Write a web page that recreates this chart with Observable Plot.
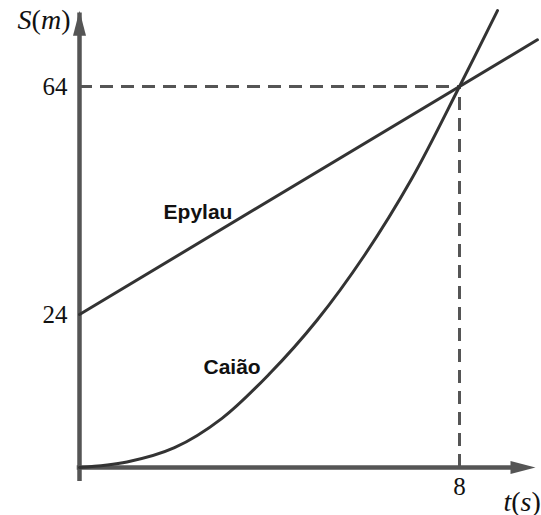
<!DOCTYPE html>
<html>
<head>
<meta charset="utf-8">
<script src="https://cdn.jsdelivr.net/npm/d3@7"></script>
<script src="https://cdn.jsdelivr.net/npm/@observablehq/plot@0.6"></script>
<style>
  html, body { margin: 0; padding: 0; background: #fff; }
</style>
</head>
<body>
<div id="chart"></div>
<script>
// ---- data ----
const epylauT = [0, 9.64];
const epylauS = [24, 72.2];

const caiaoT = [0, 1, 2, 3, 4, 5, 6, 7, 8, 8.8];
const caiaoS = [0, 0.86, 3.1, 7.7, 14.7, 23.1, 34.4, 47.9, 64, 77.3];

const meetT = [8];
const meetS = [64];

const yTickValues = [24, 64];
const xTickValues = [8];

const axisEndT = [9.6];
const axisEndS = [77.3];

const seriesNames = ["Epylau", "Caião"];
const labelT = [1.77, 2.61];
const labelS = [40.7, 14.7];

const yTitle = "S(m)";
const xTitle = "t(s)";

// ---- tables built from arrays ----
const epylau = epylauT.map((t, i) => ({t, s: epylauS[i]}));
const caiao = caiaoT.map((t, i) => ({t, s: caiaoS[i]}));
const labels = seriesNames.map((name, i) => ({name, t: labelT[i], s: labelS[i]}));

// the drawing is schematic: the 0–24 stretch of the S axis is longer than the 24–64 one
const sWarp = d3.scaleLinear().domain([0, 24, 64]).range([0, 153, 381]);

const axisColor = "#555";
const curveColor = "#333";
const serif = "Liberation Serif, serif";
const sans = "Liberation Sans, Arial, sans-serif";

const arrowUp = {draw(ctx) { ctx.moveTo(0, 0); ctx.lineTo(-6.5, 25); ctx.lineTo(6.5, 25); ctx.closePath(); }};
const arrowRight = {draw(ctx) { ctx.moveTo(0, 0); ctx.lineTo(-25, -6.5); ctx.lineTo(-25, 6.5); ctx.closePath(); }};

const chart = Plot.plot({
  width: 541,
  height: 515,
  style: {background: "#fff"},
  x: {domain: [0, 8], range: [79, 459], axis: null},
  y: {transform: d => sWarp(d), domain: [0, 381], range: [467, 86], axis: null},
  marks: [
    // dashed guides
    Plot.ruleY(meetS, {x1: 0, x2: meetT[0], stroke: axisColor, strokeWidth: 3, strokeDasharray: "13,8"}),
    Plot.ruleX(meetT, {y1: 0, y2: meetS[0], stroke: axisColor, strokeWidth: 3, strokeDasharray: "13,8"}),
    // axes
    Plot.ruleX([0], {y1: 0, y2: axisEndS[0], stroke: axisColor, strokeWidth: 4.5, insetTop: 14, insetBottom: -2.25}),
    Plot.ruleY([0], {x1: 0, x2: axisEndT[0], stroke: axisColor, strokeWidth: 4.5, insetRight: 14, insetLeft: -2.25}),
    Plot.dot([0], {x: 0, y: axisEndS[0], symbol: arrowUp, fill: axisColor, stroke: "none", r: 5}),
    Plot.dot([0], {x: axisEndT[0], y: 0, symbol: arrowRight, fill: axisColor, stroke: "none", r: 5}),
    // series
    Plot.line(epylau, {x: "t", y: "s", stroke: curveColor, strokeWidth: 3}),
    Plot.line(caiao, {x: "t", y: "s", stroke: curveColor, strokeWidth: 3, curve: "catmull-rom"}),
    // tick labels
    Plot.text(yTickValues, {x: 0, y: d => d, text: d => String(d), textAnchor: "end", dx: -12, lineAnchor: "middle", fontFamily: serif, fontSize: 25, fill: "#111"}),
    Plot.text(xTickValues, {x: d => d, y: 0, text: d => String(d), textAnchor: "middle", dy: 19, lineAnchor: "middle", fontFamily: serif, fontSize: 25, fill: "#111"}),
    // axis titles
    Plot.text([yTitle], {x: 0, y: axisEndS[0], text: d => d, textAnchor: "end", dx: -9, dy: 18, lineAnchor: "bottom", fontFamily: serif, fontSize: 28, fill: "#111", className: "math-title"}),
    Plot.text([xTitle], {x: axisEndT[0], y: 0, text: d => d, textAnchor: "start", dx: -32, dy: 43, lineAnchor: "bottom", fontFamily: serif, fontSize: 28, fill: "#111", className: "math-title"}),
    // series labels
    Plot.text(labels, {x: "t", y: "s", text: "name", textAnchor: "start", lineAnchor: "bottom", fontFamily: sans, fontWeight: "bold", fontSize: 21, fill: "#111"})
  ]
});

// math-style titles: italic variable letters, upright parentheses
d3.select(chart).selectAll(".math-title text").each(function () {
  const s = this.textContent;
  const node = d3.select(this);
  node.text(null);
  for (const ch of s) {
    node.append("tspan").attr("font-style", /[()]/.test(ch) ? "normal" : "italic").text(ch);
  }
});

document.getElementById("chart").appendChild(chart);
</script>
</body>
</html>
